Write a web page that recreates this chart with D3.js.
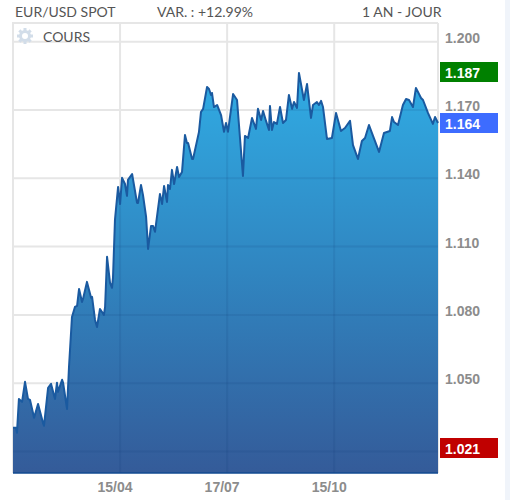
<!DOCTYPE html>
<html><head><meta charset="utf-8">
<script src="https://cdn.jsdelivr.net/npm/d3@7"></script>
<style>html,body{margin:0;padding:0;background:#fff}svg{display:block}text{font-family:Lato,"Open Sans",sans-serif}</style>
</head><body><svg id="c" width="510" height="500"></svg>
<script>
const sessions=[0,1.8,2.4,3.6,5.5,7.3,9.1,10.3,12.8,15.2,18.2,18.8,21.3,23.1,25.5,26.7,27.3,29.8,30.4,32.8,34,35.8,37.6,38.9,40.1,41.9,42.5,44.9,47.4,48,49.8,51,52.8,55.2,55.9,57.1,58.9,60.1,60.7,61.9,63.8,65,66.2,68,69.2,69.8,72.3,75.3,75.9,77.7,78.9,80.8,82,83.8,85,86.2,89.2,90.5,91.7,93.5,94.1,95.3,96.5,97.8,99.6,100.8,102.6,104.4,105.6,106.3,108.7,109.3,112.9,114.1,115.4,117.8,119,120.2,120.8,122,123.9,126.3,128.1,129.3,130.5,133.6,136,139.6,140.8,142.7,145.1,147.5,148.7,150.6,151.8,153.6,155.4,156,157.2,158.4,160.2,162.1,163.9,165.7,167.5,169.4,170.6,172.4,173.6,176.6,178.5,180.9,182.1,184.5,185.7,187,188.2,190.6,193.6,196.1,199.1,201.5,204.6,206.4,209.4,211.8,213.7,216.1,222.2,225.2,228.8,230.1,231.3,233.7,236.7,238.6,240.4,242.8,244.6,247.7,248.9,251.9,254.9,256.2,258];
const prices=[1.0304,1.0304,1.0282,1.0431,1.0418,1.0506,1.0431,1.0427,1.0348,1.0409,1.0326,1.0313,1.0480,1.0497,1.0431,1.0502,1.0462,1.0515,1.0502,1.0387,1.0572,1.0791,1.0835,1.0840,1.0914,1.0857,1.0870,1.0945,1.0875,1.0879,1.0778,1.0747,1.0826,1.0800,1.0835,1.1055,1.0941,1.0919,1.0963,1.1217,1.1362,1.1287,1.1402,1.1375,1.1323,1.1393,1.1419,1.1292,1.1292,1.1371,1.1327,1.1230,1.1090,1.1191,1.1191,1.1165,1.1331,1.1287,1.1366,1.1296,1.1371,1.1353,1.1437,1.1375,1.1450,1.1406,1.1428,1.1590,1.1555,1.1555,1.1485,1.1485,1.1604,1.1691,1.1705,1.1801,1.1792,1.1766,1.1775,1.1713,1.1722,1.1678,1.1604,1.1643,1.1604,1.1770,1.1744,1.1410,1.1586,1.1577,1.1665,1.1617,1.1705,1.1656,1.1696,1.1652,1.1612,1.1718,1.1612,1.1647,1.1639,1.1713,1.1643,1.1656,1.1766,1.1705,1.1735,1.1709,1.1863,1.1744,1.1814,1.1665,1.1722,1.1735,1.1722,1.1740,1.1713,1.1573,1.1577,1.1687,1.1608,1.1621,1.1652,1.1546,1.1485,1.1564,1.1577,1.1634,1.1516,1.1599,1.1608,1.1669,1.1647,1.1634,1.1722,1.1748,1.1744,1.1713,1.1797,1.1753,1.1744,1.1687,1.1639,1.1669,1.1643];
const yTicks=[1.200,1.170,1.140,1.110,1.080,1.050,1.020];
const yTickLabels=["1.200","1.170","1.140","1.110","1.080","1.050"];
const xTicks=[65,130,195];
const xTickLabels=["15/04","17/07","15/10"];
const headerLabels=["EUR/USD SPOT","VAR. : +12.99%","1 AN - JOUR"];
const badgeValues=[1.187,1.164,1.021];
const badgeLabels=["1.187","1.164","1.021"];
const badgeColors=["#008000","#3d6cff","#c00000"];

const svg=d3.select("#c");
const L=13,R=438,T=23,B=473;
const x=d3.scaleLinear().domain([0,258]).range([L,R]);
const y=d3.scaleLinear().domain([1.2,1.02]).range([41.7,451.5]);
const data=sessions.map((s,i)=>({s,p:prices[i]}));
const defs=svg.append("defs");
const g=defs.append("linearGradient").attr("id","fill").attr("gradientUnits","userSpaceOnUse").attr("x1",0).attr("x2",0).attr("y1",72).attr("y2",B);
g.append("stop").attr("offset",0).attr("stop-color","#30ace4");
g.append("stop").attr("offset",0.5).attr("stop-color","#3085c0");
g.append("stop").attr("offset",1).attr("stop-color","#345b99");

svg.append("rect").attr("x",505).attr("y",0).attr("width",5).attr("height",500).attr("fill","#f0f4fa");
const grid=svg.append("g").attr("stroke","#e6e6e6").attr("stroke-width",2);
grid.append("path").attr("fill","none").attr("d",`M${R},${T}H${L}V${B}`);
grid.append("line").attr("x1",R).attr("x2",R).attr("y1",T).attr("y2",B);
grid.selectAll(".h").data(yTicks).join("line").attr("x1",L).attr("x2",R).attr("y1",d=>y(d)).attr("y2",d=>y(d));
grid.selectAll(".v").data(xTicks).join("line").attr("x1",d=>x(d)).attr("x2",d=>x(d)).attr("y1",T).attr("y2",B);

const area=d3.area().x(d=>x(d.s)).y0(B).y1(d=>y(d.p));
const line=d3.line().x(d=>x(d.s)).y(d=>y(d.p));
defs.append("clipPath").attr("id","under").append("path").attr("d",area(data));
svg.append("path").attr("d",area(data)).attr("fill","url(#fill)");
const over=svg.append("g").attr("clip-path","url(#under)").attr("stroke","rgba(10,50,110,.1)").attr("stroke-width",2);
over.selectAll(".h").data(yTicks).join("line").attr("x1",L).attr("x2",R).attr("y1",d=>y(d)).attr("y2",d=>y(d));
over.selectAll(".v").data(xTicks).join("line").attr("x1",d=>x(d)).attr("x2",d=>x(d)).attr("y1",T).attr("y2",B);
svg.append("path").attr("d",line(data)).attr("fill","none").attr("stroke","#1a5aa0").attr("stroke-width",2).attr("stroke-linejoin","round");
svg.append("line").attr("x1",L).attr("x2",R).attr("y1",B).attr("y2",B).attr("stroke","#124a90").attr("stroke-width",1.5);

const tickFont='"Liberation Sans",Arial,sans-serif';
svg.selectAll(".yl").data(yTickLabels).join("text").attr("x",445).attr("y",(d,i)=>y(yTicks[i])+1).text(d=>d)
  .attr("font-family",tickFont).attr("style",`font-family:${tickFont}`).attr("font-size",14).attr("font-weight",700).attr("fill","#8c8c8c");
svg.selectAll(".xl").data(xTickLabels).join("text").attr("x",(d,i)=>x(xTicks[i])-5).attr("y",492).attr("text-anchor","middle").text(d=>d)
  .attr("style",`font-family:${tickFont}`).attr("font-size",14).attr("font-weight",700).attr("fill","#8c8c8c");

const hx=[15,157,362];
svg.selectAll(".hd").data(headerLabels).join("text").attr("x",(d,i)=>hx[i]).attr("y",17).text(d=>d).attr("font-size",14).attr("fill","#555");
svg.append("text").attr("x",43).attr("y",42).text("COURS").attr("font-size",14).attr("fill","#555");
const gear=svg.append("g").attr("transform","translate(25,36)");
gear.append("circle").attr("r",4.5).attr("fill","#fff").attr("stroke","#d2dde9").attr("stroke-width",3);
d3.range(8).forEach(i=>gear.append("rect").attr("x",-1.5).attr("y",-8).attr("width",3).attr("height",3).attr("fill","#d2dde9").attr("transform",`rotate(${i*45})`));

const by=[72,123,448];
const b=svg.selectAll(".b").data(badgeValues).join("g");
b.append("rect").attr("x",440).attr("width",58).attr("height",20).attr("y",(d,i)=>by[i]-10).attr("fill",(d,i)=>badgeColors[i]);
b.append("text").attr("x",445).attr("y",(d,i)=>by[i]+5.5).text((d,i)=>badgeLabels[i]).attr("style",`font-family:${tickFont}`).attr("font-size",14).attr("font-weight",700).attr("fill","#fff");
</script></body></html>
